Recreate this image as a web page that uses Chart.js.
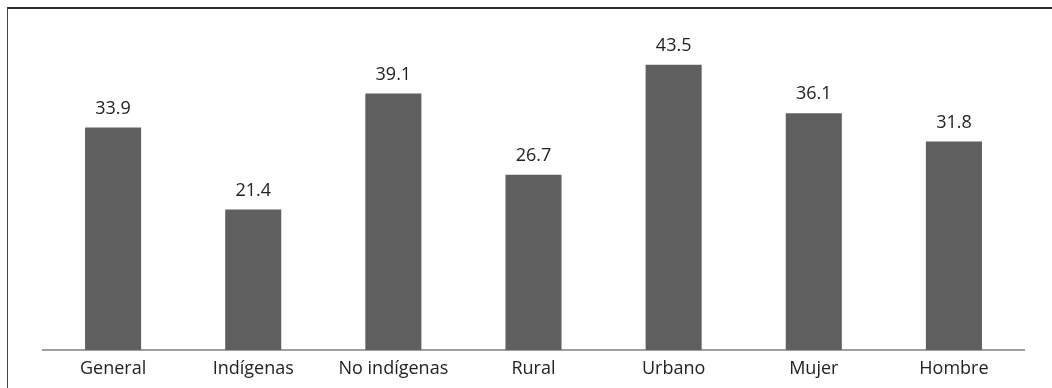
<!DOCTYPE html>
<html>
<head>
<meta charset="utf-8">
<script src="https://cdn.jsdelivr.net/npm/chart.js@4.4.1/dist/chart.umd.min.js"></script>
<style>
  html, body { margin: 0; padding: 0; background: #fff; }
  #frame { position: absolute; left: 7px; top: 7px; width: 1045px; height: 381px;
           border-top: 2px solid #2a2a2a; border-left: 1px solid #444; box-sizing: border-box; }
  #wrap { position: absolute; left: 0; top: 0; width: 1052px; height: 388px; }
</style>
</head>
<body>
<div id="frame"></div>
<div id="wrap"><canvas id="c" width="1052" height="388"></canvas></div>
<script>
const categories = ["General", "Indígenas", "No indígenas", "Rural", "Urbano", "Mujer", "Hombre"];
const values = [33.9, 21.4, 39.1, 26.7, 43.5, 36.1, 31.8];

const valueLabels = {
  id: 'valueLabels',
  afterDatasetsDraw(chart) {
    const ctx = chart.ctx;
    const meta = chart.getDatasetMeta(0);
    ctx.save();
    ctx.font = '18px "Open Sans"';
    ctx.fillStyle = '#222';
    ctx.textAlign = 'center';
    ctx.textBaseline = 'middle';
    meta.data.forEach((bar, i) => {
      ctx.fillText(values[i].toFixed(1), bar.x, bar.y - 19);
    });
    ctx.restore();
  }
};

new Chart(document.getElementById('c'), {
  type: 'bar',
  data: {
    labels: categories,
    datasets: [{
      data: values,
      backgroundColor: '#5f5f5f',
      borderWidth: 0,
      barPercentage: 0.4,
      categoryPercentage: 1.0
    }]
  },
  options: {
    responsive: false,
    animation: false,
    devicePixelRatio: 1,
    layout: { padding: { left: 43, right: 28, top: 22, bottom: 0 } },
    plugins: { legend: { display: false }, tooltip: { enabled: false } },
    scales: {
      x: {
        grid: { display: false },
        border: { display: true, color: '#a0a0a0', width: 2 },
        ticks: { color: '#222', font: { family: 'Open Sans', size: 18 }, padding: 0 },
        afterFit(s) { s.height = 38; }
      },
      y: { display: false, min: 0, max: 50 }
    }
  },
  plugins: [valueLabels]
});
</script>
</body>
</html>
